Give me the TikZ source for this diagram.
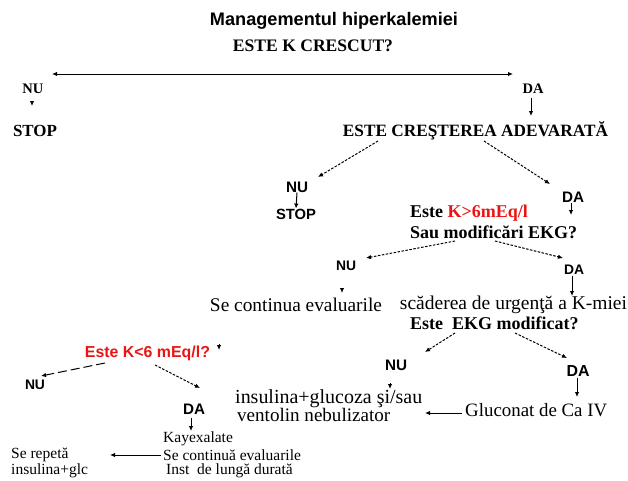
\documentclass[tikz,border=0pt]{standalone}
\usepackage{graphicx}
\usepackage{fontspec}
\setmainfont{Liberation Serif}
\setsansfont{Liberation Sans}
\usetikzlibrary{arrows.meta}
\definecolor{kred}{RGB}{235,20,20}
\newcommand{\fw}[2]{\resizebox{#1pt}{!}{#2}}
\begin{document}
\begin{tikzpicture}[x=1pt,y=-1pt,
  every node/.style={inner sep=0pt},
  sb/.style={font=\sffamily\bfseries\fontsize{10}{12}\selectfont},
  rb/.style={font=\rmfamily\bfseries\fontsize{10}{12}\selectfont},
  rbq/.style={font=\rmfamily\bfseries\fontsize{18}{20}\selectfont},
  rr/.style={font=\rmfamily\fontsize{10}{12}\selectfont},
  rs/.style={font=\rmfamily\fontsize{15.5}{17}\selectfont},
  sol/.style={-{Latex[length=5pt,width=4.5pt]}, line width=1pt},
  dsh/.style={-{Latex[length=5pt,width=4.5pt]}, line width=1pt, dash pattern=on 2.5pt off 1.5pt},
  ldsh/.style={-{Latex[length=5pt,width=4.5pt]}, line width=1pt, dash pattern=on 9pt off 4pt}]
\useasboundingbox (0,0) rectangle (628,480);
% title
\node[sb] (title) at (334,21) {\fw{248}{Managementul hiperkalemiei}};
\node[rb] (q1) at (313,46) {\fw{160}{ESTE K CRESCUT?}};
\coordinate (hl) at (52,74);
\coordinate (hr) at (513,74);
\draw[{Latex[length=5pt,width=4.5pt]}-{Latex[length=5pt,width=4.5pt]}, line width=1pt] (hl) -- (hr);
\node[rb] (nu1) at (33,89) {\fw{21}{NU}};
\node[rb] (da1) at (533,89) {\fw{21}{DA}};
\coordinate (nu1e) at (32,106);
\draw[sol] (32,101) -- (nu1e);
\node[rb] (stop1) at (35,131) {\fw{44}{STOP}};
% q2
\node[rb] (q2) at (475.5,131) {\fw{265}{ESTE CREŞTEREA ADEVARATĂ}};
\coordinate (q2t) at (531,116);
\draw[sol] (531,98) -- (q2t);
\node[sb] (nu2) at (297,187) {\fw{22}{NU}};
\node[sb] (da2) at (573,197) {\fw{22}{DA}};
\draw[dsh] (378,141) -- (318,177);
\draw[dsh] (484,141) -- (550,184);
\node[sb] (stop2) at (296,214) {\fw{40}{STOP}};
\draw[sol] (nu2.south) -- (stop2.north);
% q3
\node[rbq, anchor=west] (q3a) at (410,213) {Este \textcolor{kred}{K>6mEq/l}};
\node[rbq, anchor=west] (q3b) at (410,232) {Sau modificări EKG?};
\coordinate (da2e) at (571,215);
\draw[sol] (da2.south) ++(-2,1) -- (da2e);
\node[sb] (nu3) at (346,266) {\fw{20}{NU}};
\node[sb] (da3) at (574,270) {\fw{20}{DA}};
\draw[dsh] (455,241) -- (366,258);
\draw[dsh] (495,241) -- (563,258);
\node[rr] (cont1) at (296,305) {\fw{172}{Se continua evaluarile}};
\node[rr] (scad) at (513.5,305) {\fw{227}{scăderea de urgenţă a K-miei}};
\coordinate (nu3e) at (342,293);
\draw[sol] (342,288) -- (nu3e);
\draw[sol] (da3.south) ++(-2,1) -- (572,296);
\node[rbq, anchor=west] (q4) at (410,323) {Este~~EKG modificat?};
% q5 (red)
\node[sb, text=kred] (q5) at (147.5,353) {\fw{125}{Este K<6 mEq/l?}};
\coordinate (q5e) at (219,350);
\draw[sol] (219,344) -- (q5e);
% EKG branch
\node[sb] (nu4) at (396,365) {\fw{22}{NU}};
\node[sb] (da4) at (578,371) {\fw{23}{DA}};
\draw[dsh] (455,333) -- (425,352);
\draw[dsh] (515,333) -- (567,358);
\coordinate (nu4e) at (390,389);
\draw[sol] (390,383) -- (nu4e);
\node[rr, anchor=west] (ins) at (235,399) {\fw{187}{insulina+glucoza şi/sau}};
\node[rr, anchor=west] (vent) at (237,415) {\fw{153}{ventolin nebulizator}};
\node[rr, anchor=west] (gluc) at (465,410) {\fw{142}{Gluconat de Ca IV}};
\draw[sol] (da4.south) ++(-1,1) -- (577,397);
\coordinate (glue) at (425,413);
\draw[sol] (gluc.west |- glue) ++(-3,0) -- (glue);
% K<6 branch
\node[sb] (nu5) at (35,385) {\fw{20}{NU}};
\node[sb] (da5) at (194,409) {\fw{22}{DA}};
\draw[ldsh] (105,363) -- (41,376);
\draw[dsh] (155,365) -- (200,388);
\coordinate (da5e) at (191,431);
\draw[sol] (191,418) -- (da5e);
\node[rs, anchor=west] (kay) at (163,439) {Kayexalate};
\node[rs, anchor=west] (cont2) at (163,455) {Se continuă evaluarile};
\node[rs, anchor=west] (inst) at (166,471) {Inst~~de lungă durată};
\node[rs, anchor=west] (rep) at (11,455) {Se repetă};
\node[rs, anchor=west] (insg) at (11,471) {insulina+glc};
\coordinate (repe) at (110,455);
\draw[sol] (cont2.west) ++(-2,0) -- (repe);
\end{tikzpicture}
\end{document}
